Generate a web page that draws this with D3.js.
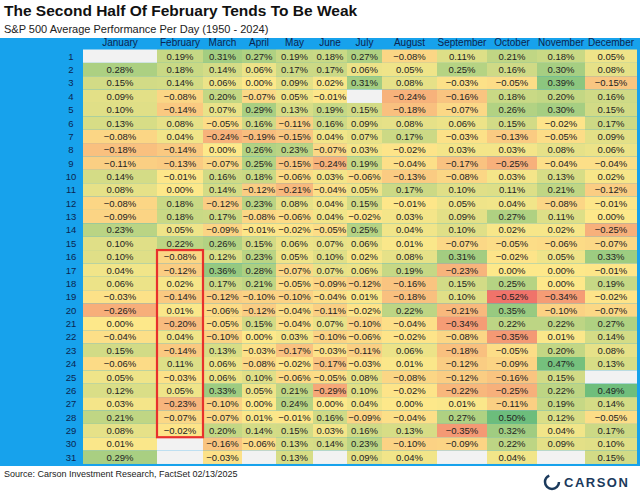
<!DOCTYPE html>
<html><head><meta charset="utf-8">
<script src="https://cdn.jsdelivr.net/npm/d3@7"></script>
<style>body{margin:0;background:#fff}svg{display:block;font-family:"Liberation Sans",Arial,sans-serif}</style>
</head><body>
<script>
// data: average daily % change, one array per month (index 0 = day 1), null = no data
const months = ['January','February','March','April','May','June','July','August','September','October','November','December'];
const jan = [null,0.28,0.15,0.09,0.10,0.13,-0.08,-0.18,-0.11,0.14,0.08,-0.08,-0.09,0.23,0.10,0.10,0.04,0.06,-0.03,-0.26,0.00,-0.04,0.15,-0.06,0.05,0.12,0.03,0.21,0.08,0.01,0.29];
const feb = [0.19,0.18,0.14,-0.08,-0.14,0.08,0.04,-0.14,-0.13,-0.01,0.00,0.18,0.18,0.05,0.22,-0.08,-0.12,0.02,-0.14,0.01,-0.20,0.04,-0.14,0.11,-0.03,0.05,-0.23,-0.07,-0.02,null,null];
const mar = [0.31,0.14,0.06,0.20,0.07,-0.05,-0.24,0.00,-0.07,0.16,0.14,-0.12,0.17,-0.09,0.26,0.12,0.36,0.17,-0.12,-0.06,-0.05,-0.10,0.13,0.06,0.06,0.33,-0.10,-0.07,0.20,-0.16,-0.03];
const apr = [0.27,0.06,0.00,-0.07,0.29,0.16,-0.19,0.26,0.25,0.18,-0.12,0.23,-0.08,-0.01,0.15,0.23,0.28,0.21,-0.10,-0.12,0.15,0.00,-0.03,-0.08,0.10,0.05,0.00,0.01,0.14,-0.06,null];
const may = [0.19,0.17,0.09,0.05,0.13,-0.11,-0.15,0.23,-0.15,-0.06,-0.21,0.08,-0.06,-0.02,0.06,0.05,-0.07,-0.05,-0.10,-0.04,-0.04,0.03,-0.17,-0.02,-0.06,0.21,0.24,-0.01,0.15,0.13,0.13];
const jun = [0.18,0.17,0.02,-0.01,0.19,0.16,0.04,-0.07,-0.24,0.03,-0.04,0.04,0.04,-0.05,0.07,0.10,0.07,-0.09,-0.04,-0.11,0.07,-0.10,-0.03,-0.17,-0.05,-0.29,0.00,0.16,0.03,0.14,null];
const jul = [0.27,0.06,0.31,null,0.15,0.09,0.07,0.03,0.19,-0.06,0.05,0.15,-0.02,0.25,0.06,0.02,0.06,-0.12,0.01,-0.02,-0.10,-0.06,-0.11,-0.03,0.08,0.10,0.04,-0.09,0.16,0.23,0.09];
const aug = [-0.08,0.05,0.08,-0.24,-0.18,0.08,0.17,-0.02,-0.04,-0.13,0.17,-0.01,0.03,0.04,0.01,0.08,0.19,-0.16,-0.18,0.22,-0.04,-0.02,0.06,0.01,-0.08,-0.02,0.00,-0.04,0.13,-0.10,0.04];
const sep = [0.11,0.25,-0.03,-0.16,-0.07,0.06,-0.03,0.03,-0.17,-0.08,0.10,0.05,0.09,0.10,-0.07,0.31,-0.23,0.15,0.10,-0.21,-0.34,-0.08,-0.18,-0.12,-0.12,-0.22,0.01,0.27,-0.35,-0.09,null];
const oct = [0.21,0.16,-0.05,0.18,0.26,0.15,-0.13,0.03,-0.25,0.03,0.11,0.04,0.27,0.02,-0.05,-0.02,0.00,0.25,-0.52,0.35,0.22,-0.35,-0.05,-0.09,-0.16,-0.25,-0.11,0.50,0.32,0.22,0.04];
const nov = [0.18,0.30,0.39,0.20,0.30,-0.02,-0.05,0.08,-0.04,0.13,0.21,-0.08,0.11,0.02,-0.06,0.05,0.00,0.00,-0.34,-0.10,0.22,0.01,0.20,0.47,0.15,0.22,0.19,0.12,0.04,0.09,null];
const dec = [0.05,0.08,-0.15,0.16,0.15,0.17,0.09,0.06,-0.04,0.02,-0.12,-0.01,0.00,-0.25,-0.07,0.33,-0.01,0.19,-0.02,-0.07,0.27,0.14,0.08,0.13,null,0.49,0.14,-0.05,0.17,0.10,0.15];
const series = [jan,feb,mar,apr,may,jun,jul,aug,sep,oct,nov,dec];
const days = d3.range(1, 32);

const width = 640, height = 498;
// column edges (months have different widths in the original table)
const colEdges = [83,157,203,242,276,313,347,382,437,487,537,585,637];
const gridTop = 49.5, rowH = 13.37;

const svg = d3.select('body').append('svg').attr('width', width).attr('height', height);

svg.append('rect').attr('x', 0).attr('y', 38).attr('width', width).attr('height', 428).attr('fill', '#17a2ec');

svg.append('text').attr('x', 4).attr('y', 16).attr('font-size', 15.5).attr('font-weight', 'bold').attr('fill', '#111')
  .text('The Second Half Of February Tends To Be Weak');
svg.append('text').attr('x', 4).attr('y', 33).attr('font-size', 11).attr('fill', '#222')
  .text('S&P 500 Average Performance Per Day (1950 - 2024)');

const y = d3.scaleBand().domain(days).range([gridTop, gridTop + rowH * 31]);
const color = d3.scaleLinear().domain([-0.52, 0, 0.5]).range(['#f0736a', '#fde88a', '#6cbd7c']).clamp(true);

// month headers
svg.selectAll('.mh').data(months).enter().append('text')
  .attr('x', (d, i) => (colEdges[i] + colEdges[i + 1]) / 2).attr('y', 46)
  .attr('text-anchor', 'middle').attr('font-size', 10).attr('fill', '#0b2550').text(d => d);

// day labels
svg.selectAll('.dl').data(days).enter().append('text')
  .attr('x', 71).attr('y', d => y(d) + rowH / 2 + 3.5)
  .attr('text-anchor', 'middle').attr('font-size', 9.5).attr('fill', '#0b2550').text(d => d);

const cells = [];
series.forEach((arr, m) => arr.forEach((v, i) => cells.push({ m, day: i + 1, v })));

svg.selectAll('.cell').data(cells).enter().append('rect')
  .attr('x', d => colEdges[d.m]).attr('y', d => y(d.day))
  .attr('width', d => colEdges[d.m + 1] - colEdges[d.m]).attr('height', y.bandwidth())
  .attr('fill', d => d.v === null ? '#f2f2f2' : color(d.v));

svg.selectAll('.val').data(cells.filter(d => d.v !== null)).enter().append('text')
  .attr('x', d => (colEdges[d.m] + colEdges[d.m + 1]) / 2).attr('y', d => y(d.day) + rowH / 2 + 3.5)
  .attr('text-anchor', 'middle').attr('font-size', 9.5).attr('fill', '#222')
  .text(d => d3.format('.2f')(d.v) + '%');

// highlight box: second half of February
svg.append('rect').attr('x', colEdges[1]).attr('y', y(16))
  .attr('width', colEdges[2] - colEdges[1]).attr('height', y(29) + rowH - y(16))
  .attr('fill', 'none').attr('stroke', '#e8302c').attr('stroke-width', 2.2);

svg.append('text').attr('x', 4).attr('y', 477).attr('font-size', 9).attr('fill', '#222')
  .text('Source: Carson Investment Research, FactSet 02/13/2025');

// logo
const logo = svg.append('g').attr('transform', 'translate(552,482)');
logo.append('circle').attr('r', 7).attr('fill', 'none').attr('stroke', '#1b3a5c').attr('stroke-width', 2.5).attr('stroke-dasharray', '30 14');
logo.append('text').attr('x', 12).attr('y', 5).attr('font-size', 13).attr('font-weight', 'bold').attr('letter-spacing', 1.5).attr('fill', '#1b3a5c').text('CARSON');
</script>
</body></html>
